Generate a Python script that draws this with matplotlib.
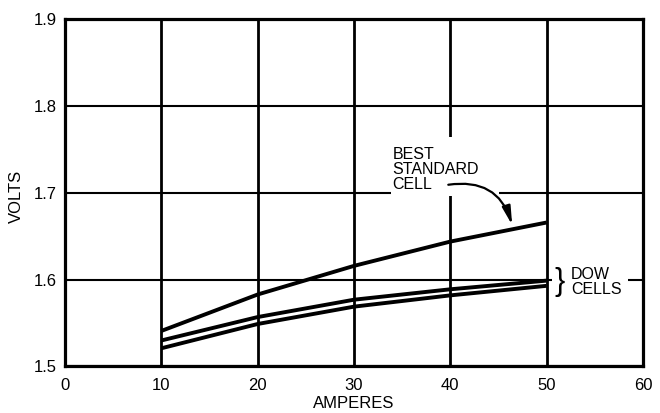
import matplotlib
matplotlib.use("Agg")
import matplotlib.pyplot as plt
from matplotlib.patches import Rectangle
from matplotlib.ticker import FormatStrFormatter

plt.rcParams["font.family"] = ["Liberation Sans", "DejaVu Sans"]

# Data
amperes = [10, 20, 30, 40, 50]
best_standard = [1.541, 1.583, 1.616, 1.644, 1.666]
dow_upper = [1.530, 1.557, 1.577, 1.589, 1.599]
dow_lower = [1.521, 1.549, 1.569, 1.582, 1.593]

x_ticks = [0, 10, 20, 30, 40, 50, 60]
y_ticks = [1.5, 1.6, 1.7, 1.8, 1.9]

fig = plt.figure(figsize=(6.6, 4.13), dpi=100)
ax = fig.add_axes([0.0985, 0.1126, 0.8758, 0.8402])

ax.set_xlim(0, 60)
ax.set_ylim(1.5, 1.9)
ax.set_xticks(x_ticks)
ax.set_yticks(y_ticks)
ax.yaxis.set_major_formatter(FormatStrFormatter("%.1f"))
ax.tick_params(length=0, labelsize=12, colors="black")
ax.tick_params(axis="x", pad=8)
ax.tick_params(axis="y", pad=6)

ax.set_axisbelow(True)
ax.xaxis.grid(True, color="black", linewidth=2.0)
ax.yaxis.grid(True, color="black", linewidth=1.5)
for s in ax.spines.values():
    s.set_linewidth(2.3)
    s.set_color("black")

for ys in (best_standard, dow_upper, dow_lower):
    ax.plot(amperes, ys, color="black", linewidth=2.8, solid_capstyle="butt", zorder=3)

# white areas behind the labels break the grid lines
ax.add_patch(Rectangle((33.8, 1.6965), 11.2, 0.068, facecolor="white", edgecolor="none", zorder=1))
ax.add_patch(Rectangle((50.5, 1.585), 7.9, 0.03, facecolor="white", edgecolor="none", zorder=1))

ax.text(34.0, 1.753, "BEST\nSTANDARD\nCELL", fontsize=11.5, ha="left", va="top",
        linespacing=0.98, zorder=4)
ax.annotate("", xy=(46.5, 1.660), xytext=(39.5, 1.709),
            arrowprops=dict(arrowstyle="-|>,head_length=1.1,head_width=0.25",
                            connectionstyle="arc3,rad=-0.45", color="black", lw=1.6),
            zorder=4)

ax.text(50.8, 1.5977, "}", fontsize=22, fontweight="light", ha="left", va="center", zorder=4)
ax.text(52.5, 1.5977, "DOW\nCELLS", fontsize=11.5, ha="left", va="center",
        linespacing=0.98, zorder=4)

ax.set_xlabel("AMPERES", fontsize=12)
ax.set_ylabel("VOLTS", fontsize=12)
ax.xaxis.set_label_coords(0.5, -0.085)
ax.yaxis.set_label_coords(-0.071, 0.491)

fig.savefig("out.png", dpi=100)
